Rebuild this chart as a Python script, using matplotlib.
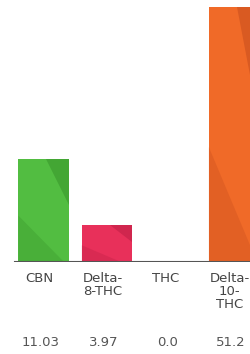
import matplotlib
matplotlib.use("Agg")
import matplotlib.pyplot as plt
from matplotlib.patches import Polygon
from matplotlib.transforms import blended_transform_factory

categories = ["CBN", "Delta-\n8-THC", "THC", "Delta-\n10-\nTHC"]
values = [11.03, 3.97, 0.0, 51.2]
value_labels = ["11.03", "3.97", "0.0", "51.2"]
colors = ["#52bd41", "#e8305a", "#999999", "#f06a28"]
dark = ["#43a634", "#d0264e", "#999999", "#d95a22"]

fig = plt.figure(figsize=(2.5, 3.54), dpi=100)
H = 354.0
ax = fig.add_axes([0, 92 / H, 1, 255 / H])
ax.set_xlim(-43.5 / 63.5, (250 - 43.5) / 63.5)
ax.set_ylim(0, 255 / 9.34)
ax.axis("off")

x = list(range(len(categories)))
bars = ax.bar(x, values, width=0.79, color=colors, zorder=2)

# diagonal darker stripes on bars
for b, d in zip(bars, dark):
    h = b.get_height()
    if h <= 0:
        continue
    x0, w = b.get_x(), b.get_width()
    ytop = min(h, ax.get_ylim()[1])
    span = ytop
    poly = Polygon([[x0 + w * 0.55, ytop], [x0 + w, ytop],
                    [x0 + w, ytop - span * 0.45], [x0 + w * 0.55, ytop]],
                   closed=True, color=d, zorder=3, lw=0)
    poly.set_clip_path(b)
    ax.add_patch(poly)
    poly2 = Polygon([[x0, ytop * 0.45], [x0 + w, ytop * 0.0 - 0.5],
                     [x0 + w, -0.5], [x0, -0.5]],
                    closed=True, color=d, zorder=3, lw=0, alpha=0.6)
    poly2.set_clip_path(b)
    ax.add_patch(poly2)

ax.axhline(0, xmin=15 / 250, xmax=1, color="#555555", lw=1.5, zorder=4)

tr = blended_transform_factory(ax.transData, fig.transFigure)
for xi, lab, vl in zip(x, categories, value_labels):
    ax.text(xi - 0.07, 1 - 272 / H, lab, transform=tr, ha="center", va="top",
            fontsize=9.5, color="#444444", linespacing=1.0)
    ax.text(xi - 0.05, 1 - 343 / H, vl, transform=tr, ha="center", va="center",
            fontsize=9.5, color="#555555")

fig.savefig("out.png", dpi=100)
